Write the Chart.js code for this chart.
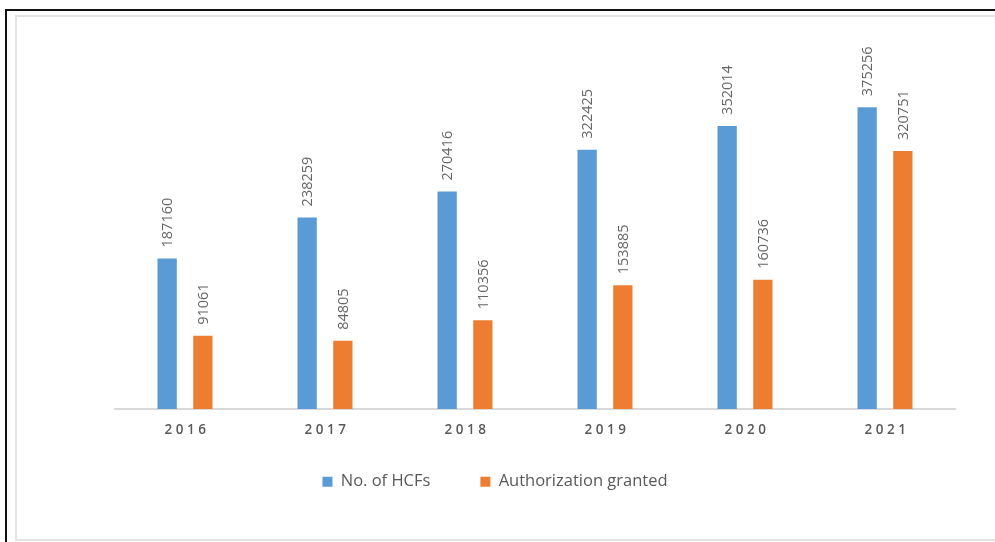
<!DOCTYPE html>
<html>
<head>
<meta charset="utf-8">
<script src="https://cdn.jsdelivr.net/npm/chart.js@4"></script>
<style>
  html, body { margin: 0; padding: 0; background: #fff; overflow: hidden; }
  #outer { position: absolute; left: 5px; top: 9px; width: 1100px; height: 700px;
           border-left: 2px solid #111; border-top: 2px solid #111; }
  #inner { position: absolute; left: 15px; top: 15px; width: 1100px; height: 522px;
           border-left: 2px solid #e4e4e4; border-top: 2px solid #e4e4e4; border-bottom: 2px solid #e4e4e4; }
  #wrap { position: absolute; left: 0; top: 0; width: 995px; height: 542px; }
</style>
</head>
<body>
<div id="outer"></div>
<div id="inner"></div>
<div id="wrap"><canvas id="chart"></canvas></div>
<script>
// chart data
const years = ["2016", "2017", "2018", "2019", "2020", "2021"];
const hcfs = [187160, 238259, 270416, 322425, 352014, 375256];
const authorized = [91061, 84805, 110356, 153885, 160736, 320751];
const seriesNames = ["No. of HCFs", "Authorization granted"];
const yMax = 470000;

const textGray = "#595959";

// value labels above bars (rotated) + spaced year labels
const labelPlugin = {
    id: "valueLabels",
    afterDatasetsDraw(chart) {
        const ctx = chart.ctx;
        chart.data.datasets.forEach((ds, i) => {
            const meta = chart.getDatasetMeta(i);
            meta.data.forEach((bar, j) => {
                ctx.save();
                ctx.translate(bar.x + 1, bar.y - 11);
                ctx.rotate(-Math.PI / 2);
                ctx.font = "14.5px 'Open Sans'";
                ctx.fillStyle = "#666";
                ctx.textAlign = "left";
                ctx.textBaseline = "middle";
                ctx.fillText(String(ds.data[j]), 0, 0);
                ctx.restore();
            });
        });
    },
    afterDraw(chart) {
        const ctx = chart.ctx;
        const x = chart.scales.x;
        ctx.save();
        ctx.font = "600 13.5px 'Open Sans'";
        ctx.fillStyle = textGray;
        ctx.textAlign = "center";
        ctx.textBaseline = "middle";
        if ("letterSpacing" in ctx) ctx.letterSpacing = "3.5px";
        chart.data.labels.forEach((lab, i) => {
            ctx.fillText(lab, x.getPixelForTick(i) + 2, 430);
        });
        ctx.restore();
    }
};

const ctx = document.getElementById("chart").getContext("2d");

new Chart(ctx, {
    type: "bar",
    data: {
        labels: years,
        datasets: [
            { label: seriesNames[0], data: hcfs, backgroundColor: "#5B9BD5" },
            { label: seriesNames[1], data: authorized, backgroundColor: "#ED7D31" }
        ]
    },
    options: {
        responsive: true,
        maintainAspectRatio: false,
        animation: false,
        categoryPercentage: 0.51,
        barPercentage: 0.54,
        layout: { padding: { left: 0, right: 5, top: 31, bottom: 42 } },
        scales: {
            x: {
                grid: { display: false, drawTicks: false },
                border: { display: true, color: "#d9d9d9", width: 2 },
                ticks: { display: false },
                afterFit(s) { s.height = 14.5; }
            },
            y: {
                display: false,
                min: 0,
                max: yMax,
                afterFit(s) { s.width = 115; }
            },
            yr: {
                position: "right",
                display: false,
                afterFit(s) { s.width = 35; }
            }
        },
        plugins: {
            legend: {
                position: "bottom",
                labels: {
                    boxWidth: 10,
                    boxHeight: 10,
                    padding: 50,
                    color: textGray,
                    font: { family: "'Open Sans'", size: 16.5 }
                }
            },
            tooltip: { enabled: false }
        }
    },
    plugins: [labelPlugin]
});
</script>
</body>
</html>
